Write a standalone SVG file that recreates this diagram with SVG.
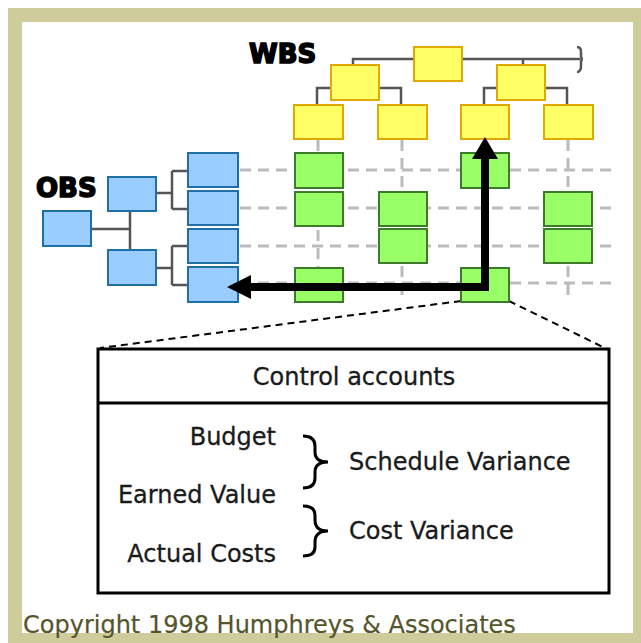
<svg xmlns="http://www.w3.org/2000/svg" width="641" height="643" viewBox="0 0 641 643">
<style>
.y{fill:#ffff66;stroke:#e0a800;stroke-width:2}
.g{fill:#99ff66;stroke:#3d7a2a;stroke-width:2}
.b{fill:#99ccff;stroke:#1f6fa6;stroke-width:2}
.tl{fill:none;stroke:#555;stroke-width:2.5}
.grid{fill:none;stroke:#bbbbbb;stroke-width:3;stroke-dasharray:11 7}
.t{font-family:"DejaVu Sans",Verdana,sans-serif;font-size:24px;fill:#1a1a1a;stroke:#1a1a1a;stroke-width:0.3}
.h{font-family:"DejaVu Sans",sans-serif;font-weight:bold;font-size:26px;fill:#000;stroke:#000;stroke-width:1.6}
</style>
<rect x="0" y="0" width="641" height="643" fill="#ffffff"/>
<rect x="8" y="8" width="633" height="635" fill="#cdcc9a"/>
<rect x="22" y="22" width="611" height="611" fill="#ffffff"/>

<g id="grid">
<path class="grid" d="M240,170H614M240,208H614M240,246H614M240,283H614"/>
<path class="grid" d="M318,140V302M402,140V302M485,140V302M568,140V302"/>
</g>

<g id="connectors">
<path class="tl" d="M353,65V59H580M523,59V65"/>
<path class="tl" d="M577,47q4,0 4,5v4q0,3 2,3q-2,0 -2,3v4q0,6 -4,6"/>
<path class="tl" d="M331,88H317V105M379,88H401V105M497,88H484V105M545,88H567V105"/>
<path class="tl" d="M91,229H130M130,211V250"/>
<path class="tl" d="M156,193H172M172,171V209M172,171H188M172,209H188"/>
<path class="tl" d="M156,268H172M172,246V285M172,246H188M172,285H188"/>
<path d="M461,301L100,348M509,301L607,349" fill="none" stroke="#000" stroke-width="2" stroke-dasharray="7 5"/>
</g>

<g id="wbs">
<text class="h" x="249" y="63">WBS</text>
<rect id="w0" class="y" x="414" y="47" width="48" height="34"/>
<rect id="w1" class="y" x="331" y="65" width="48" height="35"/>
<rect id="w2" class="y" x="497" y="65" width="48" height="35"/>
<rect id="w11" class="y" x="294" y="105" width="49" height="34"/>
<rect id="w12" class="y" x="378" y="105" width="49" height="34"/>
<rect id="w21" class="y" x="461" y="105" width="48" height="34"/>
<rect id="w22" class="y" x="544" y="105" width="49" height="34"/>
</g>

<g id="obs">
<text class="h" x="36" y="197">OBS</text>
<rect id="o0" class="b" x="43" y="211" width="48" height="35"/>
<rect id="o1" class="b" x="108" y="177" width="48" height="34"/>
<rect id="o2" class="b" x="108" y="250" width="48" height="35"/>
<rect id="o11" class="b" x="188" y="153" width="50" height="34"/>
<rect id="o12" class="b" x="188" y="191" width="50" height="34"/>
<rect id="o21" class="b" x="188" y="229" width="50" height="34"/>
<rect id="o22" class="b" x="188" y="267" width="50" height="35"/>
</g>

<g id="control-accounts">
<rect class="g" x="295" y="153" width="48" height="35"/>
<rect class="g" x="295" y="192" width="48" height="34"/>
<rect class="g" x="295" y="268" width="48" height="34"/>
<rect class="g" x="379" y="192" width="48" height="34"/>
<rect class="g" x="379" y="229" width="48" height="34"/>
<rect class="g" x="461" y="153" width="48" height="35"/>
<rect class="g" x="461" y="268" width="48" height="34"/>
<rect class="g" x="544" y="192" width="48" height="34"/>
<rect class="g" x="544" y="229" width="48" height="34"/>
</g>

<g id="arrow">
<path d="M248,287H485V157" fill="none" stroke="#000" stroke-width="8" stroke-linejoin="miter"/>
<polygon points="227,287 251,275 251,299" fill="#000"/>
<polygon points="485,137 472,159 498,159" fill="#000"/>
</g>

<g id="panel">
<rect x="98" y="349" width="511" height="244" fill="#fff" stroke="#000" stroke-width="3"/>
<line x1="98" y1="403" x2="609" y2="403" stroke="#000" stroke-width="3"/>
<text class="t" x="354" y="385" text-anchor="middle">Control accounts</text>
<text class="t" x="276" y="445" text-anchor="end">Budget</text>
<text class="t" x="276" y="503" text-anchor="end">Earned Value</text>
<text class="t" x="276" y="562" text-anchor="end">Actual Costs</text>
<text class="t" x="349" y="470">Schedule Variance</text>
<text class="t" x="349" y="539">Cost Variance</text>
<path d="M303,436q12,0 12,10v6q0,10 13,10q-13,0 -13,10v6q0,10 -12,10" fill="none" stroke="#000" stroke-width="3"/>
<path d="M303,506q12,0 12,9v5q0,11 13,11q-13,0 -13,11v5q0,9 -12,9" fill="none" stroke="#000" stroke-width="3"/>
</g>

<text x="23" y="633" style="font-family:'DejaVu Sans',Verdana,sans-serif;font-size:24px;fill:#55552a;stroke:#55552a;stroke-width:0.2">Copyright 1998 Humphreys &amp; Associates</text>
</svg>
